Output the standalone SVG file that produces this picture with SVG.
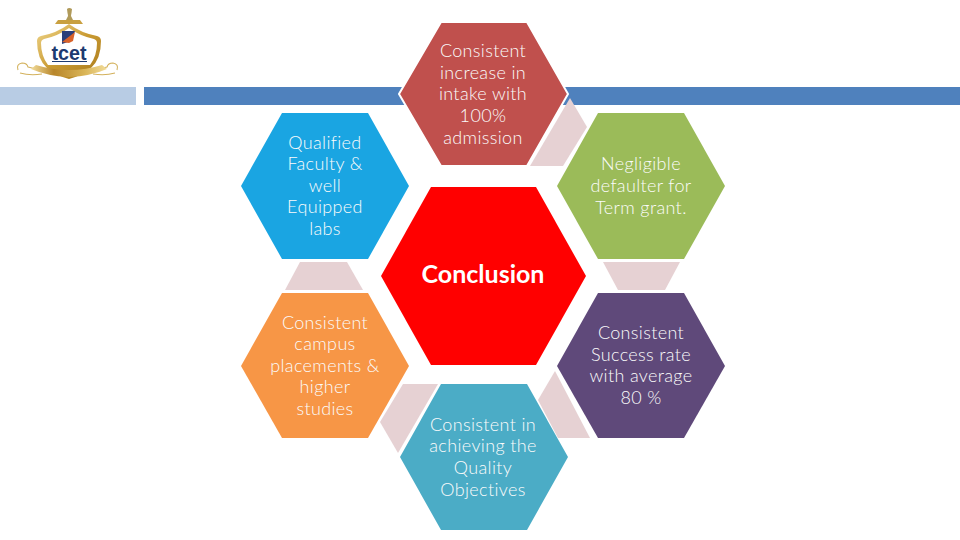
<svg xmlns="http://www.w3.org/2000/svg" width="960" height="540" viewBox="0 0 960 540">
<style>
.l{font-family:"Lato","Liberation Sans",sans-serif;font-size:18px;font-weight:300;fill:#fbfbfb;text-anchor:middle;letter-spacing:.35px}
.c{fill:#e6d1d3}
</style>
<defs>
<linearGradient id="g" x1="0" y1="0" x2="1" y2="1"><stop offset="0" stop-color="#f0d78c"/><stop offset=".5" stop-color="#c99a32"/><stop offset="1" stop-color="#a97a1c"/></linearGradient>
<linearGradient id="b" x1="0" y1="0" x2="1" y2="0"><stop offset="0" stop-color="#f2dc9a"/><stop offset=".3" stop-color="#b8862a"/><stop offset=".7" stop-color="#d9b456"/><stop offset="1" stop-color="#f2dc9a"/></linearGradient>
</defs>
<rect width="960" height="540" fill="#fff"/>
<g id="header-bars">
<rect x="0" y="87" width="136" height="18" fill="#b8cce4"/>
<rect x="144" y="87" width="816" height="18" fill="#4f81bd"/>
</g>
<g id="logo">
<path d="M18 70q-2-6 4-7 5 0 6 4 6 2 12 2M117 70q2-6-4-7-5 0-6 4-6 2-12 2M20 73q10 3 22 1M115 73q-10 3-22 1" fill="none" stroke="#d3b15c" stroke-width="1.1"/>
<path d="M67 9q2-2 5 0l-.5 4q-.5 2-.5 3l2 4h-7l2-4q0-1-.5-3z" fill="#b09a5a"/>
<path d="M58 20h22l3 4H55z" fill="#c9a040"/>
<path d="M69 24q-12 9-28 12-4 1-4 5 0 18 10 27 10 8 22 11 12-3 22-11 10-9 10-27 0-4-4-5-16-3-28-12z" fill="url(#g)"/>
<path d="M69 28q-11 8-25 11-3 1-3 4 0 13 7 22h42q7-9 7-22 0-3-3-4-14-3-25-11z" fill="#fff"/>
<path d="M62 31h13l-3 8-4 3-6 2z" fill="#2b3f7a"/><path d="M62 42l13-10-2 9-4 2z" fill="#d8622a"/>
<path d="M36 65q16 5 33 5t33-5l5 4q-16 7-38 8-22-1-38-8z" fill="url(#b)"/>
<text x="69" y="60" font-family="Liberation Sans,sans-serif" font-size="20" font-weight="700" fill="#1d3a70" text-anchor="middle" textLength="35" lengthAdjust="spacingAndGlyphs">tcet</text>
<rect x="52" y="61" width="35" height="1" fill="#1d3a70"/>
</g>
<g id="connectors">
<polygon class="c" points="570,98 587,127 563,166 530,166"/>
<polygon class="c" points="603,262 680,262 665,290 618,290"/>
<polygon class="c" points="300,262 347,262 363,290 285,290"/>
<polygon class="c" points="403,384 438,384 398,453 380,422"/>
<polygon class="c" points="555,371 538,400 558,438 590,438"/>
</g>
<g id="node-increase">
<polygon points="441,22 527,22 568,94 527,166 441,166 399,94" fill="#c0504d" stroke="#fff" stroke-width="2"/>
<text class="l"><tspan x="483" y="57">Consistent</tspan><tspan x="483" y="79">increase in</tspan><tspan x="483" y="100">intake with</tspan><tspan x="483" y="122">100%</tspan><tspan x="483" y="144">admission</tspan></text>
</g>
<g id="node-faculty">
<polygon points="282,113 368,113 409,186 368,259 282,259 241,186" fill="#1aa5e2"/>
<text class="l"><tspan x="325" y="149">Qualified</tspan><tspan x="325" y="170">Faculty &amp;</tspan><tspan x="325" y="192">well</tspan><tspan x="325" y="213">Equipped</tspan><tspan x="325" y="235">labs</tspan></text>
</g>
<g id="node-defaulter">
<polygon points="598,113 684,113 725,186 684,259 598,259 557,186" fill="#9bbb59"/>
<text class="l"><tspan x="641" y="170">Negligible</tspan><tspan x="641" y="192">defaulter for</tspan><tspan x="641" y="214">Term grant.</tspan></text>
</g>
<g id="node-conclusion">
<polygon points="431,187 536,187 586,276 536,365 431,365 381,276" fill="#ff0000"/>
<text x="483" y="283" font-family="Lato,Liberation Sans,sans-serif" font-size="25" font-weight="700" fill="#fff" text-anchor="middle">Conclusion</text>
</g>
<g id="node-placements">
<polygon points="282,293 368,293 409,366 368,438 282,438 241,366" fill="#f79646"/>
<text class="l"><tspan x="325" y="329">Consistent</tspan><tspan x="325" y="350">campus</tspan><tspan x="325" y="372">placements &amp;</tspan><tspan x="325" y="393">higher</tspan><tspan x="325" y="415">studies</tspan></text>
</g>
<g id="node-success">
<polygon points="598,293 684,293 725,366 684,438 598,438 557,366" fill="#5f497a"/>
<text class="l"><tspan x="641" y="339">Consistent</tspan><tspan x="641" y="361">Success rate</tspan><tspan x="641" y="382">with average</tspan><tspan x="641" y="404">80 %</tspan></text>
</g>
<g id="node-quality">
<polygon points="441,384 527,384 568,457 527,530 441,530 400,457" fill="#4bacc6"/>
<text class="l"><tspan x="483" y="431">Consistent in</tspan><tspan x="483" y="452">achieving the</tspan><tspan x="483" y="474">Quality</tspan><tspan x="483" y="496">Objectives</tspan></text>
</g>
</svg>
